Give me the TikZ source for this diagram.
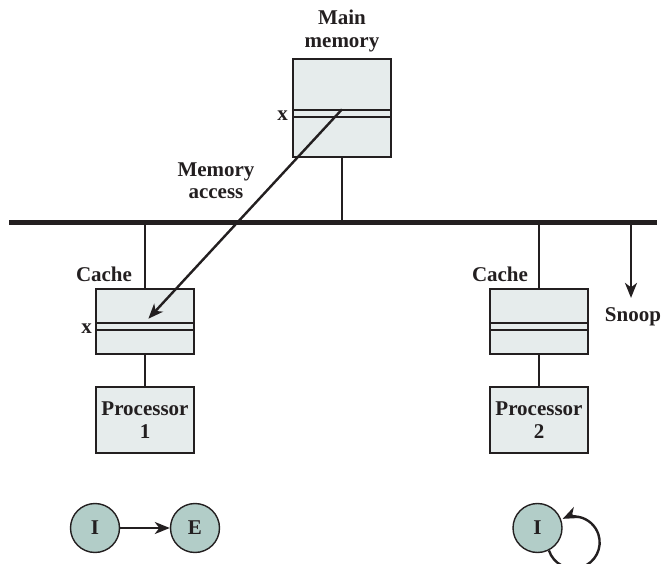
\documentclass[tikz,border=0pt]{standalone}
\usepackage{fontspec}
\setmainfont{Liberation Serif}
\usetikzlibrary{arrows.meta,positioning}
\definecolor{boxgray}{RGB}{230,236,236}
\definecolor{stategreen}{RGB}{178,205,200}
\definecolor{inkgray}{RGB}{35,31,32}

\begin{document}
\begin{tikzpicture}[x=1pt,y=-1pt,
    every node/.style={font={\fontsize{21}{22.5}\selectfont\bfseries},text=inkgray},
    box/.style={draw=inkgray,line width=1.3pt,fill=boxgray,minimum width=98pt,inner sep=0pt,align=center},
    slot/.style={draw=inkgray,line width=1.3pt,fill=boxgray,minimum width=98pt,minimum height=7pt,inner sep=0pt},
    state/.style={circle,draw=inkgray,line width=1.4pt,fill=stategreen,minimum size=49pt,inner sep=0pt},
    wire/.style={draw=inkgray,line width=2.4pt},
    arr/.style={wire,-{Stealth[length=15pt,width=12pt,inset=4.5pt]}}]
  \path[use as bounding box,clip] (0,0) rectangle (662,564);
  \node[box,minimum height=98pt] (mem) at (342,108) {};
  \node[slot] (memslot) at (342,113.5) {};
  \node[above=6.5pt of mem,inner sep=0pt,align=center] (memlbl) {Main\\memory};
  \node[anchor=base east,inner sep=0pt] (memx) at (288,120.5) {x};
  \node[anchor=south,inner sep=0pt,align=center] (acc) at (216,199) {Memory\\access};
  \node[box,minimum height=65pt] (c1) at (145,321.5) {};
  \node[slot] (c1slot) at (145,326.5) {};
  \node[anchor=base,inner sep=0pt] (c1lbl) at (104,282) {Cache};
  \node[anchor=base east,inner sep=0pt] (c1x) at (92,333.5) {x};
  \node[box,minimum height=66pt] (p1) at (145,420) {Processor\\1};
  \node[box,minimum height=65pt] (c2) at (539,321.5) {};
  \node[slot] (c2slot) at (539,326.5) {};
  \node[anchor=base,inner sep=0pt] (c2lbl) at (500,282) {Cache};
  \node[box,minimum height=66pt] (p2) at (539,420) {Processor\\2};
  \node[anchor=base,inner sep=0pt] (snp) at (633,322) {Snoop};
  \node[state] (i1) at (95,528) {I};
  \node[state] (e1) at (195,528) {E};
  \node[state] (i2) at (537.5,528) {I};
  \coordinate (busL) at (9,222.5);
  \coordinate (busR) at (657,222.5);
  \coordinate (snpT) at (631,222.5);
  \draw[inkgray,line width=5.5pt] (busL) -- (busR);
  \draw[wire] (mem.south) -- (mem.south |- busL);
  \draw[wire] (c1.north) -- (c1.north |- busL);
  \draw[wire] (c2.north) -- (c2.north |- busL);
  \draw[wire] (c1) -- (p1);
  \draw[wire] (c2) -- (p2);
  \draw[arr,shorten >=5pt] (memslot.north) -- (c1slot.north);
  \draw[arr,shorten >=10pt] (snpT) -- (snpT |- snp.north);
  \draw[arr] (i1) -- (e1);
  \draw[arr] (i2.-63) arc[start angle=162,end angle=-115,radius=26];
\end{tikzpicture}
\end{document}
